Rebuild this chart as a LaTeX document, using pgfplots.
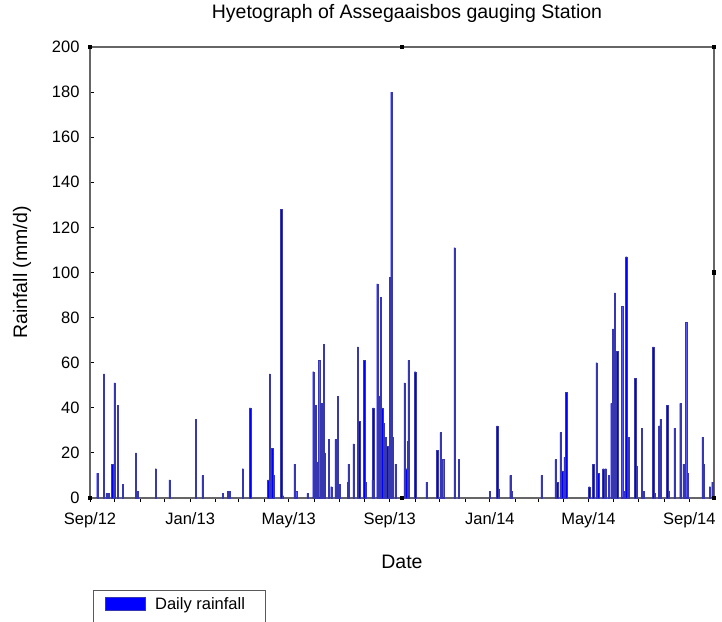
\documentclass[border=0pt]{standalone}
\usepackage{fontspec}
\setmainfont{Liberation Sans}
\usepackage{pgfplots}
\pgfplotsset{compat=1.18}
\usetikzlibrary{calc}
\definecolor{baredge}{RGB}{55,55,175}
\begin{document}
\begin{tikzpicture}
\begin{axis}[
  scale only axis, width=624pt, height=451pt,
  xmin=0, xmax=760, ymin=0, ymax=200,
  ytick={0,20,...,200},
  xtick={0,122,242,365,487,607,730},
  xticklabels={Sep/12,Jan/13,May/13,Sep/13,Jan/14,May/14,Sep/14},
  minor xtick={30,61,91,153,181,212,273,304,334,396,426,457,518,546,577,638,668,699},
  /pgf/number format/assume math mode=true,
  ticklabel style={font=\fontsize{16.5}{19}\selectfont},
  xticklabel style={yshift=-7pt},
  yticklabel style={xshift=-7pt},
  xtick pos=bottom, ytick pos=left,
  x tick style={black, line width=0.8pt}, xtick align=outside,
  y tick style={black, line width=0.8pt}, ytick align=inside,
  major tick length=4pt, minor tick length=4pt,
  axis line style={gray!80!black, line width=1.3pt},
  xlabel={Date}, ylabel={Rainfall (mm/d)},
  label style={font=\fontsize{19.5}{22}\selectfont},
  xlabel style={at={(axis description cs:0.5,-0.142)}, anchor=center},
  ylabel style={at={(axis description cs:-0.109,0.5)}, anchor=center, rotate=0},
  title={Hyetograph of Assegaaisbos gauging Station},
  title style={at={(axis description cs:0.508,1.06)}, anchor=center, font=\fontsize{19.5}{22}\selectfont},
  legend style={at={(axis description cs:0.005,-0.204)}, anchor=north west,
    draw=gray!70!black, line width=1pt, inner xsep=11pt, inner ysep=5pt,
    font=\fontsize{16.5}{19}\selectfont, nodes={inner xsep=10pt}},
  legend image code/.code={\draw[fill=blue, draw=baredge, line width=0.5pt] (0pt,-6.5pt) rectangle (40pt,6.5pt); \path (0pt,-18pt);},
  clip=false,
]
\addplot[ybar, bar width=1.3pt, fill=blue, draw=baredge, line width=0.35pt] coordinates {
(9,11) (17,55) (20,2) (23,2) (27,15) (30,51) (34,41) (40,6) (56,20) (58,3)
(80,13) (97,8) (129,35) (137,10) (162,2) (168,3) (170,3) (186,13) (195,40)
(217,8) (219,55) (222,22) (224,10) (233,128) (235,1) (249,15) (251,3) (265,2)
(272,56) (275,41) (276,16) (279,61) (281,8) (282,42) (285,68) (286,20) (291,26)
(294,5) (299,26) (302,45) (304,6) (314,7) (315,15) (321,24) (326,67) (328,34)
(334,61) (336,7) (344,8) (345,40) (350,95) (352,45) (354,89) (356,40) (358,33)
(360,27) (362,23) (365,98) (367,180) (369,27) (372,15) (383,51) (385,13) (387,25)
(388,61) (396,56) (410,7) (423,21) (427,29) (430,17) (444,111) (449,17)
(487,3) (496,32) (498,4) (512,10) (514,3) (550,10) (567,17) (569,7) (573,29)
(575,12) (578,18) (580,47) (608,5) (613,15) (617,60) (619,11) (625,13) (628,13)
(632,10) (635,42) (637,75) (639,91) (640,23) (642,65) (648,85) (650,3) (653,107)
(656,27) (664,53) (666,14) (672,31) (674,3) (686,67) (688,2) (693,32) (695,35)
(703,41) (705,3) (712,31) (719,42) (723,15) (726,78) (728,11) (746,27) (747,15)
(755,5) (758,7)
};
\addlegendentry{Daily rainfall}
\coordinate (BL) at (rel axis cs:0,0);
\coordinate (TR) at (rel axis cs:1,1);
\fill[black] ($(rel axis cs:0,0)+(-2.2pt,-2.2pt)$) rectangle ++(4.4pt,4.4pt);
\fill[black] ($(rel axis cs:0.5,0)+(-2.2pt,-2.2pt)$) rectangle ++(4.4pt,4.4pt);
\fill[black] ($(rel axis cs:1,0)+(-2.2pt,-2.2pt)$) rectangle ++(4.4pt,4.4pt);
\fill[black] ($(rel axis cs:1,0.5)+(-2.2pt,-2.2pt)$) rectangle ++(4.4pt,4.4pt);
\fill[black] ($(rel axis cs:1,1)+(-2.2pt,-2.2pt)$) rectangle ++(4.4pt,4.4pt);
\fill[black] ($(rel axis cs:0.5,1)+(-2.2pt,-2.2pt)$) rectangle ++(4.4pt,4.4pt);
\fill[black] ($(rel axis cs:0,1)+(-2.2pt,-2.2pt)$) rectangle ++(4.4pt,4.4pt);
\end{axis}
\pgfresetboundingbox
\path ([xshift=-90pt,yshift=-124pt]BL) rectangle ([xshift=8pt,yshift=47pt]TR);
\end{tikzpicture}
\end{document}
